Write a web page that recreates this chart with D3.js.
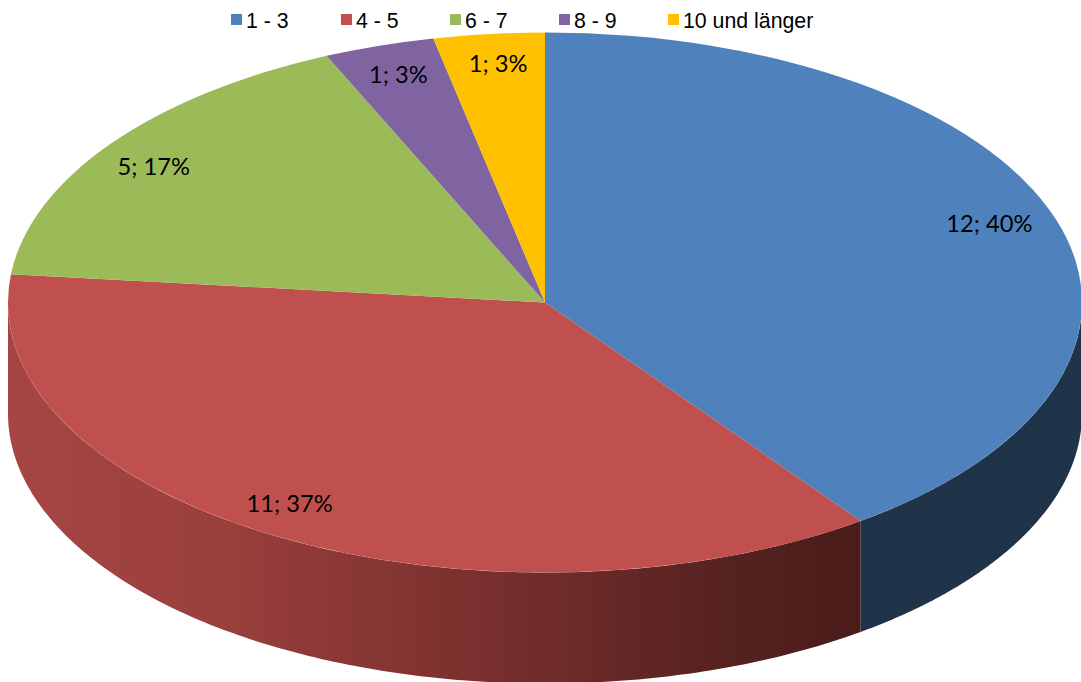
<!DOCTYPE html>
<html>
<head>
<meta charset="utf-8">
<script src="https://cdn.jsdelivr.net/npm/d3@7"></script>
<style>
  html, body { margin: 0; padding: 0; background: #fff; overflow: hidden; }
  .legend-label { font-family: "Liberation Sans", Arial, sans-serif; font-size: 21.3px; fill: #000; }
  .slice-label { font-family: Lato, Carlito, sans-serif; font-size: 23.7px; fill: #000; text-anchor: middle; }
</style>
</head>
<body>
<div id="chart"></div>
<script>
// ── Data ──
const categories = ["1 - 3", "4 - 5", "6 - 7", "8 - 9", "10 und länger"];
const counts = [12, 11, 5, 1, 1];
const percents = [40, 37, 17, 3, 3];

// ── Look ──
const topColors = ["#4f81bd", "#c0504d", "#9bbb59", "#8064a2", "#ffc000"];
const W = 1081, H = 682;
const cx = 545, cy = 302.5, rx = 537, ry = 270, depth = 111;

const svg = d3.select("#chart").append("svg")
    .attr("width", W)
    .attr("height", H)
    .style("display", "block");

const color = d3.scaleOrdinal().domain(categories).range(topColors);
const arcs = d3.pie().sort(null).value(d => d.count)(
    categories.map((name, i) => ({ name, count: counts[i], percent: percents[i] }))
);

// Tilted disc: a circle of radius ry, stretched along x
const px = a => cx + rx * Math.sin(a);
const py = a => cy - ry * Math.cos(a);

// Side wall gradient for the red slice
const defs = svg.append("defs");
const grad = defs.append("linearGradient")
    .attr("id", "wall-red")
    .attr("gradientUnits", "userSpaceOnUse")
    .attr("x1", px(arcs[1].startAngle)).attr("x2", cx - rx)
    .attr("y1", 0).attr("y2", 0);
[[0, "#4a1c1a"], [0.18, "#582321"], [0.45, "#7a302e"], [0.75, "#9a3f3c"], [1, "#a64644"]].forEach(([o, c]) => {
    grad.append("stop").attr("offset", o).attr("stop-color", c);
});

// ── Side walls ──
const wall = d3.area()
    .x(a => px(a))
    .y0(a => py(a))
    .y1(a => py(a) + depth);

function wallAngles(start, end) {
    const n = 160;
    return d3.range(n + 1).map(i => start + (end - start) * i / n);
}

// Blue wall: from the right-most point of the disc to the end of the blue slice
svg.append("path")
    .attr("d", wall(wallAngles(Math.PI / 2, arcs[0].endAngle)))
    .attr("fill", "#1f3349");

// Red wall: from the end of blue to the left-most point of the disc
svg.append("path")
    .attr("d", wall(wallAngles(arcs[1].startAngle, Math.PI * 1.5)))
    .attr("fill", "url(#wall-red)");

// ── Top face ──
const arc = d3.arc().innerRadius(0).outerRadius(ry);

svg.append("g")
    .attr("transform", `translate(${cx},${cy}) scale(${rx / ry},1)`)
    .selectAll("path")
    .data(arcs)
    .join("path")
    .attr("d", arc)
    .attr("fill", d => color(d.data.name));

// ── Slice labels ──
const labelRadius = [0.87, 0.86, 0.82, 0.86, 0.87];
const labelNudge = [[0, 2], [-24.5, 8], [-35, 3], [-4, 1.5], [2, 3.4]];

svg.append("g")
    .selectAll("text")
    .data(arcs)
    .join("text")
    .attr("class", "slice-label")
    .attr("x", (d, i) => {
        const mid = (d.startAngle + d.endAngle) / 2;
        return cx + rx * labelRadius[i] * Math.sin(mid) + labelNudge[i][0];
    })
    .attr("y", (d, i) => {
        const mid = (d.startAngle + d.endAngle) / 2;
        return cy - ry * labelRadius[i] * Math.cos(mid) + labelNudge[i][1];
    })
    .text(d => `${d.data.count}; ${d.data.percent}%`);

// ── Legend ──
const legendX = [231, 341, 450, 559, 668];
const legend = svg.append("g")
    .selectAll("g")
    .data(categories)
    .join("g")
    .attr("transform", (d, i) => `translate(${legendX[i]},0)`);

legend.append("rect")
    .attr("y", 14)
    .attr("width", 11)
    .attr("height", 11)
    .attr("fill", d => color(d));

legend.append("text")
    .attr("class", "legend-label")
    .attr("x", 15)
    .attr("y", 27.5)
    .text(d => d);
</script>
</body>
</html>
